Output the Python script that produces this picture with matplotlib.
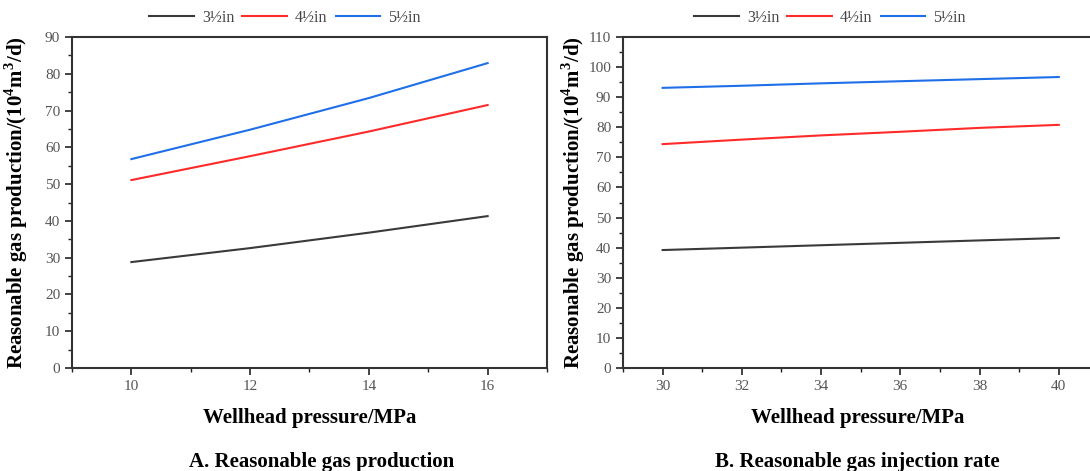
import numpy as np
import matplotlib.pyplot as plt
from matplotlib.ticker import MultipleLocator

# Panel A: production vs wellhead pressure
pressure_a = [10, 12, 14, 16]
prod_35 = [28.8, 32.6, 36.8, 41.3]
prod_45 = [51.1, 57.6, 64.3, 71.5]
prod_55 = [56.8, 64.8, 73.4, 82.9]

# Panel B: injection rate vs wellhead pressure
pressure_b = [30, 32, 34, 36, 38, 40]
inj_35 = [39.2, 40.0, 40.8, 41.6, 42.4, 43.2]
inj_45 = [74.4, 75.9, 77.3, 78.5, 79.8, 80.8]
inj_55 = [93.1, 93.8, 94.6, 95.3, 96.0, 96.7]

sizes = ['3½in', '4½in', '5½in']
colors = ['#3a3a3a', '#ff2a2a', '#1f6fe8']

plt.rcParams['font.family'] = ['Liberation Serif', 'DejaVu Serif']
plt.rcParams['mathtext.fontset'] = 'custom'
plt.rcParams['mathtext.rm'] = 'Liberation Serif'
plt.rcParams['mathtext.bf'] = 'Liberation Serif:bold'

fig = plt.figure(figsize=(10.9, 4.71), dpi=100)
ax1 = fig.add_axes([72 / 1090, 1 - 368 / 471, 475 / 1090, 331 / 471])
ax2 = fig.add_axes([623 / 1090, 1 - 368 / 471, 515 / 1090, 331 / 471])

ylabel = 'Reasonable gas production/(10$^\\mathbf{4}$m$^\\mathbf{3}$/d)'


def style_axes(ax, xlim, ylim, xmajor, ymajor):
    ax.set_xlim(*xlim)
    ax.set_ylim(*ylim)
    ax.xaxis.set_major_locator(MultipleLocator(xmajor))
    ax.xaxis.set_minor_locator(MultipleLocator(xmajor / 2))
    ax.yaxis.set_major_locator(MultipleLocator(ymajor))
    ax.yaxis.set_minor_locator(MultipleLocator(ymajor / 2))
    ax.tick_params(which='major', direction='out', length=5, width=1.2,
                   colors='#222', labelcolor='#555', labelsize=11)
    ax.tick_params(which='minor', direction='out', length=3, width=1.0,
                   colors='#222')
    for s in ax.spines.values():
        s.set_linewidth(1.5)
        s.set_color('#333')
    ax.set_xlabel('Wellhead pressure/MPa', fontsize=15, fontweight='bold')
    ax.set_ylabel(ylabel, fontsize=15, fontweight='bold')


for ys, c, lab in zip([prod_35, prod_45, prod_55], colors, sizes):
    ax1.plot(pressure_a, ys, color=c, lw=1.5, label=lab)
style_axes(ax1, (9, 17), (0, 90), 2, 10)
ax1.set_xticks([10, 12, 14, 16])

for ys, c, lab in zip([inj_35, inj_45, inj_55], colors, sizes):
    ax2.plot(pressure_b, ys, color=c, lw=1.5, label=lab)
style_axes(ax2, (29, 42), (0, 110), 2, 10)
ax2.set_xticks([30, 32, 34, 36, 38, 40])
ax2.spines['right'].set_visible(False)

legend_kw = dict(loc='center', bbox_transform=fig.transFigure, ncol=3,
                 frameon=False, fontsize=11.5, handlelength=2.8,
                 columnspacing=0.5, handletextpad=0.5, labelcolor='#444')
ax1.legend(bbox_to_anchor=(285 / 1090, 1 - 18 / 471), **legend_kw)
ax2.legend(bbox_to_anchor=(830 / 1090, 1 - 18 / 471), **legend_kw)

ax1.xaxis.set_label_coords(0.5, -0.12)
ax2.xaxis.set_label_coords(235 / 515, -0.12)
ax1.yaxis.set_label_coords(-42 / 475, 0.5)
ax2.yaxis.set_label_coords(-36 / 515, 0.5)

fig.text(322 / 1090, 1 - 462 / 471, 'A. Reasonable gas production',
         ha='center', va='center', fontsize=15, fontweight='bold')
fig.text(857 / 1090, 1 - 462 / 471, 'B. Reasonable gas injection rate',
         ha='center', va='center', fontsize=15, fontweight='bold')

fig.savefig('out.png', dpi=100)
